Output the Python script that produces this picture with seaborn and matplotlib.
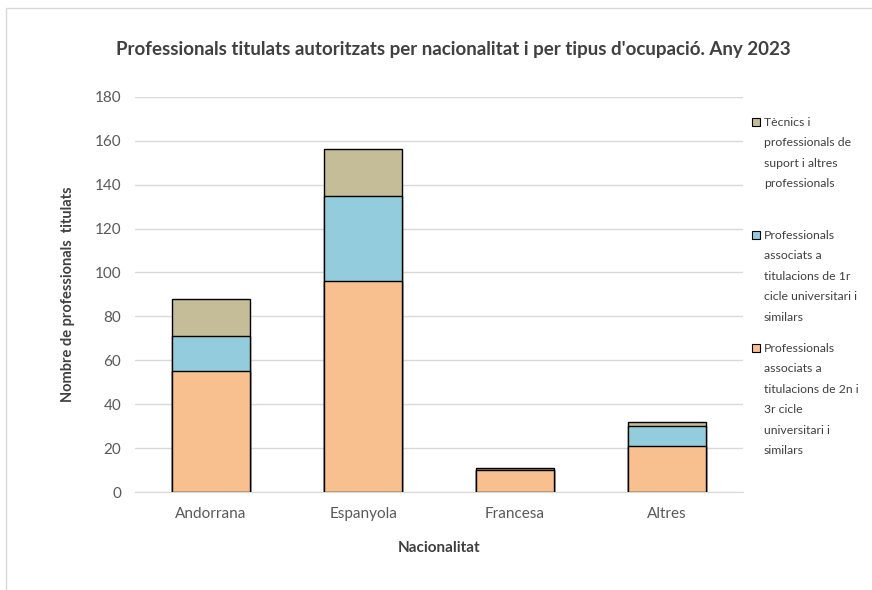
import pandas as pd
import seaborn as sns
import matplotlib.pyplot as plt
from matplotlib.patches import Rectangle

# Dades
nacionalitats = ['Andorrana', 'Espanyola', 'Francesa', 'Altres']
cicle_2n_3r = [55, 96, 10, 21]
cicle_1r = [16, 39, 0, 9]
tecnics = [17, 21, 1, 2]

series = [
    'Professionals\nassociats a\ntitulacions de 2n i\n3r cicle\nuniversitari i\nsimilars',
    'Professionals\nassociats a\ntitulacions de 1r\ncicle universitari i\nsimilars',
    'Tècnics i\nprofessionals de\nsuport i altres\nprofessionals',
]
colors = ['#F9C08F', '#93CDDD', '#C4BD97']

df = pd.DataFrame({'Nacionalitat': nacionalitats,
                   's0': cicle_2n_3r, 's1': cicle_1r, 's2': tecnics})
df['c0'] = df['s0']
df['c1'] = df['c0'] + df['s1']
df['c2'] = df['c1'] + df['s2']

sns.set_style('white')
plt.rcParams['font.family'] = ['Lato', 'DejaVu Sans']

fig = plt.figure(figsize=(8.72, 5.9), dpi=100)
ax = fig.add_axes([0.155, 0.166, 0.697, 0.670])

# barres apilades: es dibuixen els acumulats de dalt a baix
for col, color in zip(['c2', 'c1', 'c0'], colors[::-1]):
    sns.barplot(data=df, x='Nacionalitat', y=col, color=color, width=0.51,
                saturation=1, edgecolor='black', linewidth=1, ax=ax, zorder=3)

ax.set_ylim(0, 180)
ax.set_yticks(range(0, 181, 20))
ax.grid(axis='y', color='#D9D9D9', linewidth=1, zorder=0)
ax.set_axisbelow(True)
for s in ['top', 'right', 'left']:
    ax.spines[s].set_visible(False)
ax.spines['bottom'].set_color('#D9D9D9')
ax.tick_params(axis='y', length=0, labelsize=11, colors='#595959', pad=10)
ax.tick_params(axis='x', length=0, labelsize=11, colors='#595959', pad=11)

ax.set_xlabel('Nacionalitat', fontsize=11, fontweight='bold', color='#404040', labelpad=14)
ax.set_ylabel('Nombre de professionals  titulats', fontsize=10.5, fontweight='bold',
              color='#404040', labelpad=14)
fig.suptitle("Professionals titulats autoritzats per nacionalitat i per tipus d'ocupació. Any 2023",
             x=0.52, y=0.93, fontsize=13.5, fontweight='bold', color='#404040')

# llegenda: una entrada per bloc, repartides verticalment
legend_y = [122, 235, 348]
for label, color, y in zip(series[::-1], colors[::-1], legend_y):
    fig.add_artist(Rectangle((752 / 872, 1 - (y + 4) / 590), 8 / 872, 8 / 590,
                             transform=fig.transFigure, facecolor=color,
                             edgecolor='black', linewidth=0.8))
    fig.text(764 / 872, 1 - (y - 5) / 590, label, fontsize=8.8, color='#404040',
             va='top', ha='left', linespacing=2.05)

# vora del gràfic
fig.add_artist(Rectangle((6 / 872, -0.1), 1.0, 1.1 - 8 / 590, transform=fig.transFigure,
                         fill=False, edgecolor='#D9D9D9', linewidth=1))

plt.savefig('out.png', dpi=100)
plt.close()
